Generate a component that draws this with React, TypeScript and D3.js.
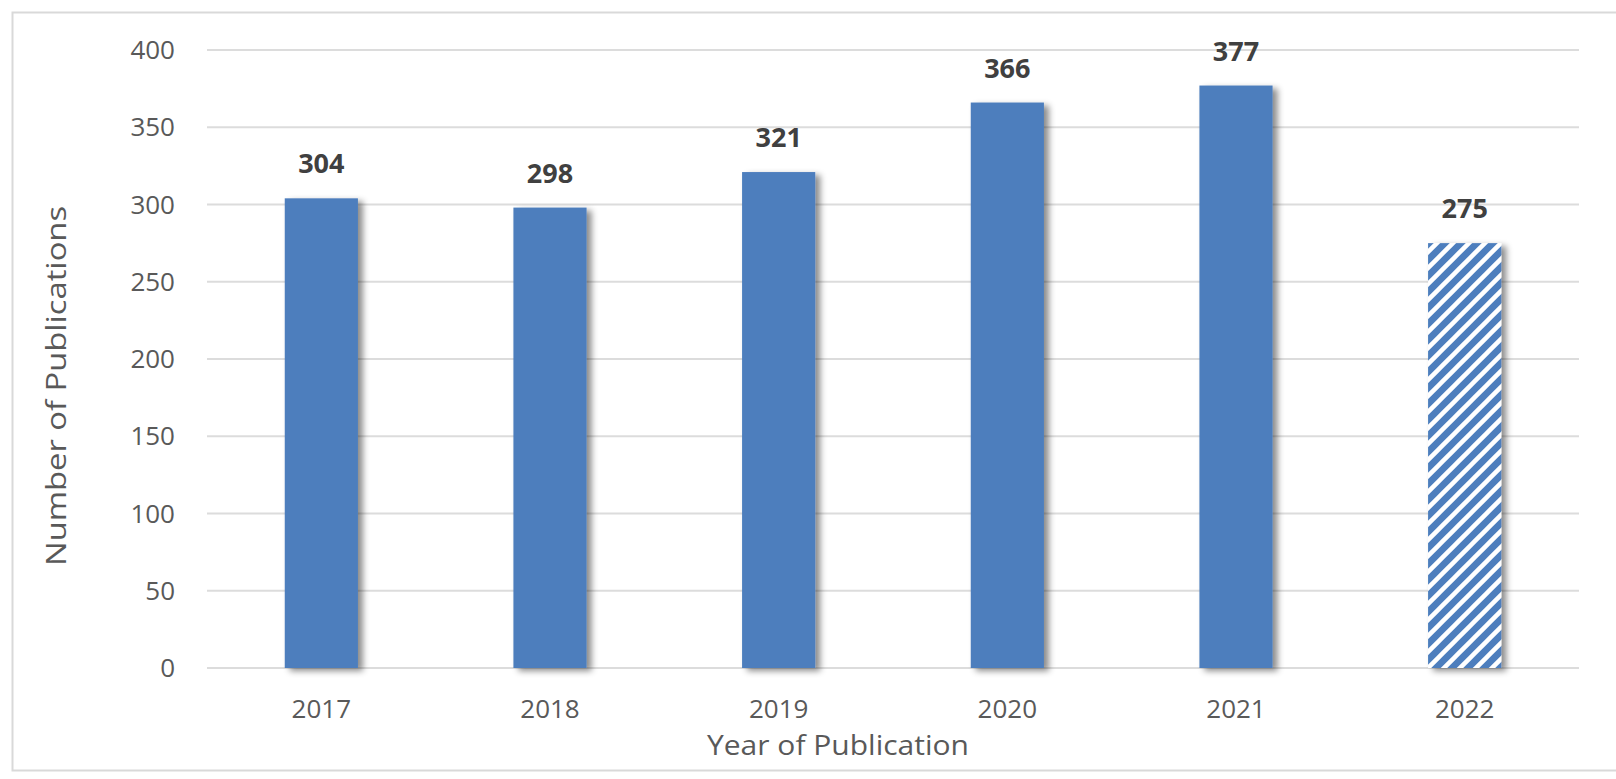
import React from "react";
import * as d3 from "d3";

const years: string[] = ["2017", "2018", "2019", "2020", "2021", "2022"];
const publications: number[] = [304, 298, 321, 366, 377, 275];
const partialYear: string[] = ["2022"];
const yTicks: number[] = [0, 50, 100, 150, 200, 250, 300, 350, 400];
const xTitle = "Year of Publication";
const yTitle = "Number of Publications";

const W = 1616;
const H = 779;
const plot = { left: 207, right: 1579, top: 50, bottom: 668 };
const FONT = "'Open Sans', 'Noto Sans', sans-serif";
const BLUE = "#4d7ebd";

export default function App() {
  const x = d3
    .scaleBand<string>()
    .domain(years)
    .range([plot.left, plot.right])
    .paddingInner(0.68)
    .paddingOuter(0.34);
  const y = d3.scaleLinear().domain([0, 400]).range([plot.bottom, plot.top]);

  return (
    <svg
      width={W}
      height={H}
      style={{ position: "absolute", left: 0, top: 0, display: "block", background: "#fff" }}
    >
      <defs>
        <filter id="shadow" x="-20%" y="-5%" width="150%" height="115%">
          <feDropShadow dx="5" dy="3" stdDeviation="3" floodColor="#000" floodOpacity="0.45" />
        </filter>
        <pattern id="hatch" patternUnits="userSpaceOnUse" width="16" height="16">
          <rect width="16" height="16" fill={BLUE} />
          <path d="M-2,2 l4,-4 M0,16 l16,-16 M14,18 l4,-4" stroke="#fff" strokeWidth="4.5" />
        </pattern>
      </defs>

      {/* outer frame */}
      <rect x={12.5} y={12.5} width={W + 10} height={758} fill="none" stroke="#d9d9d9" strokeWidth={2} />

      {/* gridlines */}
      {yTicks.map((t) => (
        <line
          key={"g" + t}
          x1={plot.left}
          x2={plot.right}
          y1={y(t)}
          y2={y(t)}
          stroke="#dcdcdc"
          strokeWidth={1.8}
        />
      ))}

      {/* y tick labels */}
      {yTicks.map((t) => (
        <text
          key={"t" + t}
          x={175}
          y={y(t)}
          dy="0.35em"
          textAnchor="end"
          fontFamily={FONT}
          fontSize={26}
          fill="#595959"
        >
          {t}
        </text>
      ))}

      {/* bars */}
      {years.map((yr, i) => (
        <rect
          key={"b" + yr}
          x={x(yr)}
          y={y(publications[i])}
          width={x.bandwidth()}
          height={y(0) - y(publications[i])}
          fill={partialYear.includes(yr) ? "url(#hatch)" : BLUE}
          filter="url(#shadow)"
        />
      ))}

      {/* data labels */}
      {years.map((yr, i) => (
        <text
          key={"l" + yr}
          x={(x(yr) as number) + x.bandwidth() / 2}
          y={y(publications[i]) - 25}
          textAnchor="middle"
          fontFamily={FONT}
          fontWeight={700}
          fontSize={27}
          fill="#404040"
        >
          {publications[i]}
        </text>
      ))}

      {/* x tick labels */}
      {years.map((yr) => (
        <text
          key={"x" + yr}
          x={(x(yr) as number) + x.bandwidth() / 2}
          y={718}
          textAnchor="middle"
          fontFamily={FONT}
          fontSize={26}
          fill="#595959"
        >
          {yr}
        </text>
      ))}

      {/* axis titles */}
      <text
        x={838}
        y={755}
        textAnchor="middle"
        fontFamily={FONT}
        fontSize={28}
        fill="#595959"
        textLength={262}
        lengthAdjust="spacingAndGlyphs"
      >
        {xTitle}
      </text>
      <text
        transform={`translate(66,386) rotate(-90)`}
        textAnchor="middle"
        fontFamily={FONT}
        fontSize={28}
        fill="#595959"
        textLength={360}
        lengthAdjust="spacingAndGlyphs"
      >
        {yTitle}
      </text>
    </svg>
  );
}
